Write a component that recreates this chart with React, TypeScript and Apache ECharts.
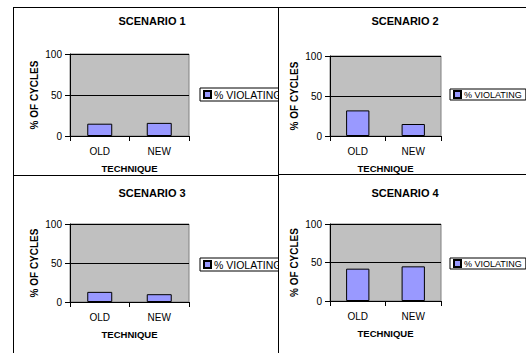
import React, { useEffect, useRef } from "react";
import * as echarts from "echarts";

const categories = ["OLD", "NEW"];
const scenarioTitles = ["SCENARIO 1", "SCENARIO 2", "SCENARIO 3", "SCENARIO 4"];
const scenario1 = [15, 16];
const scenario2 = [32, 15];
const scenario3 = [13, 10];
const scenario4 = [42, 45];
const seriesName = "% VIOLATING";
const xAxisTitle = "TECHNIQUE";
const yAxisTitle = "% OF CYCLES";
const yMin = 0;
const yMax = 100;
const yInterval = 50;

const FONT = 'Arial, "Liberation Sans", sans-serif';

type Layout = {
  left: number; top: number; width: number; height: number;
  gridLeft: number; gridTop: number; gridWidth: number; gridHeight: number;
  titleX: number; titleTop: number;
  legendLeft: number; legendTop: number; legendFont: number;
};

const layouts: Layout[] = [
  { left: 13, top: 7, width: 266, height: 169, gridLeft: 56, gridTop: 46, gridWidth: 119, gridHeight: 82, titleX: 138, titleTop: 7, legendLeft: 186, legendTop: 80, legendFont: 10.5 },
  { left: 278, top: 7, width: 270, height: 168, gridLeft: 51, gridTop: 48, gridWidth: 111, gridHeight: 80, titleX: 126, titleTop: 7, legendLeft: 171, legendTop: 81, legendFont: 9 },
  { left: 13, top: 175, width: 266, height: 200, gridLeft: 56, gridTop: 48, gridWidth: 119, gridHeight: 78, titleX: 138, titleTop: 11, legendLeft: 186, legendTop: 82, legendFont: 10.5 },
  { left: 278, top: 174, width: 270, height: 200, gridLeft: 51, gridTop: 49, gridWidth: 111, gridHeight: 77, titleX: 126, titleTop: 12, legendLeft: 171, legendTop: 83, legendFont: 9 },
];

const allData = [scenario1, scenario2, scenario3, scenario4];

function Panel({ idx }: { idx: number }) {
  const ref = useRef<HTMLDivElement>(null);
  const L = layouts[idx];
  useEffect(() => {
    if (!ref.current) return;
    const chart = echarts.init(ref.current, undefined, { renderer: "svg" });
    chart.setOption({
      animation: false,
      textStyle: { fontFamily: FONT },
      title: {
        text: scenarioTitles[idx],
        left: L.titleX,
        top: L.titleTop,
        textAlign: "center",
        padding: 0,
        textStyle: { fontFamily: FONT, fontSize: 11, fontWeight: "bold", color: "#000" },
      },
      legend: {
        left: L.legendLeft,
        top: L.legendTop,
        orient: "vertical",
        data: [seriesName],
        icon: "rect",
        itemWidth: 7,
        itemHeight: 7,
        itemGap: 0,
        padding: [1, 4, 1, 3],
        borderColor: "#000",
        borderWidth: 1,
        backgroundColor: "#fff",
        textStyle: { fontFamily: FONT, fontSize: L.legendFont, color: "#000", padding: [0, 0, 0, -2] },
      },
      grid: {
        left: L.gridLeft,
        top: L.gridTop,
        width: L.gridWidth,
        height: L.gridHeight,
        show: true,
        backgroundColor: "#c0c0c0",
        borderColor: "#808080",
        borderWidth: 1,
      },
      xAxis: {
        type: "category",
        data: categories,
        name: xAxisTitle,
        nameLocation: "middle",
        nameGap: 27,
        nameTextStyle: { fontFamily: FONT, fontSize: 9.5, fontWeight: "bold", color: "#000" },
        axisLine: { lineStyle: { color: "#000", width: 1 } },
        axisTick: { show: true, length: 5, lineStyle: { color: "#000" } },
        axisLabel: { fontFamily: FONT, fontSize: 10, color: "#000", margin: 10 },
      },
      yAxis: {
        type: "value",
        min: yMin,
        max: yMax,
        interval: yInterval,
        name: yAxisTitle,
        nameLocation: "middle",
        nameGap: 31,
        nameTextStyle: { fontFamily: FONT, fontSize: 10, fontWeight: "bold", color: "#000" },
        axisLine: { show: true, lineStyle: { color: "#000", width: 1 } },
        axisTick: { show: true, length: 5, lineStyle: { color: "#000" } },
        axisLabel: { fontFamily: FONT, fontSize: 10, color: "#000", margin: 8 },
        splitLine: { show: true, lineStyle: { color: "#000", width: 1 } },
      },
      series: [
        {
          name: seriesName,
          type: "bar",
          data: allData[idx],
          barWidth: "42%",
          itemStyle: { color: "#9999ff", borderColor: "#000", borderWidth: 1 },
        },
      ],
    });
    return () => chart.dispose();
  }, [idx]);
  return (
    <div
      style={{
        position: "absolute",
        left: L.left,
        top: L.top,
        width: L.width,
        height: L.height,
        border: "1px solid #000",
        boxSizing: "border-box",
        background: "#fff",
        overflow: "hidden",
      }}
    >
      <div ref={ref} style={{ width: L.width - 2, height: L.height - 2 }} />
    </div>
  );
}

export default function App() {
  return (
    <div
      style={{
        position: "absolute",
        left: 0,
        top: 0,
        width: 526,
        height: 353,
        overflow: "hidden",
        background: "#fff",
      }}
    >
      {[0, 1, 2, 3].map((i) => (
        <Panel key={i} idx={i} />
      ))}
    </div>
  );
}
